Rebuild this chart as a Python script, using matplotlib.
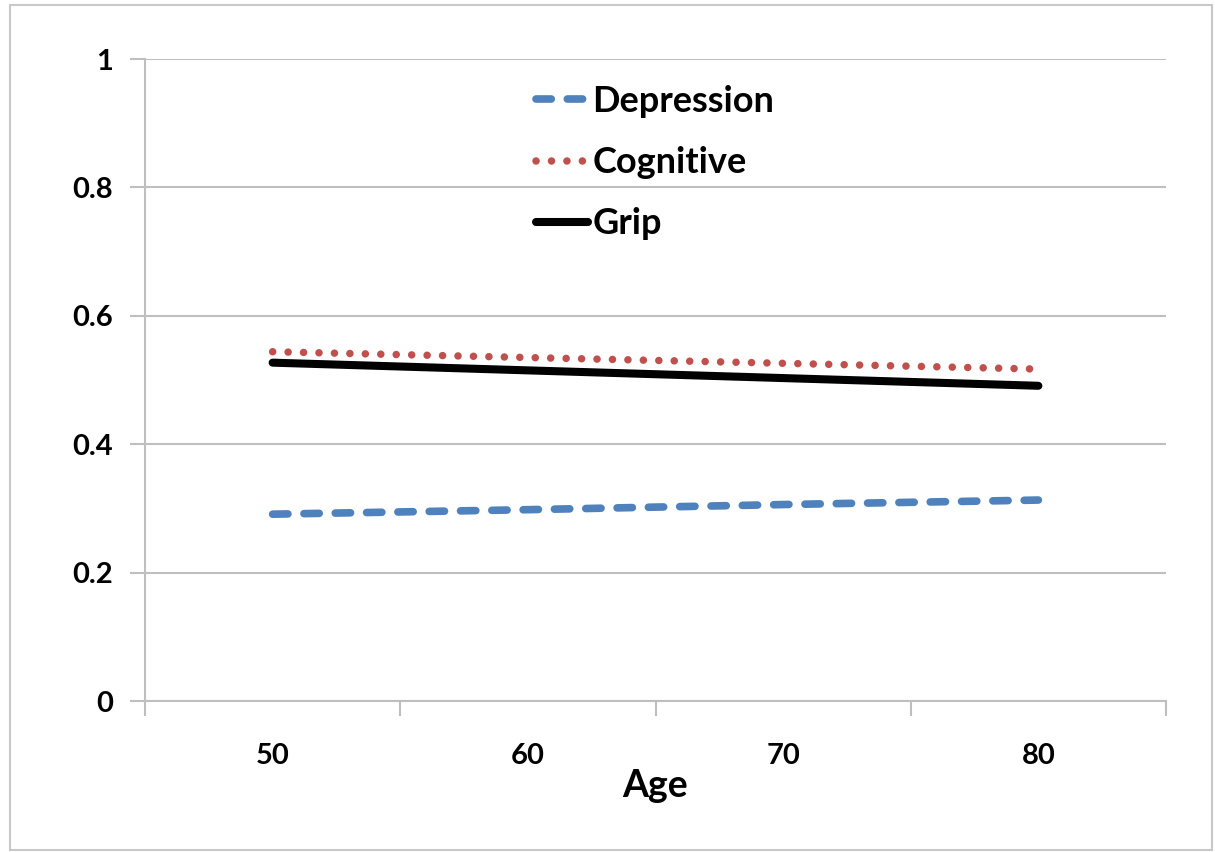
import matplotlib.pyplot as plt
from matplotlib.patches import Rectangle

plt.rcParams["font.family"] = ["Lato", "DejaVu Sans"]

ages = ["50", "60", "70", "80"]
depression = [0.291, 0.298, 0.306, 0.313]
cognitive = [0.544, 0.535, 0.526, 0.517]
grip = [0.527, 0.515, 0.503, 0.491]
y_ticks = [0, 0.2, 0.4, 0.6, 0.8, 1]
y_labels = ["0", "0.2", "0.4", "0.6", "0.8", "1"]

GRID = "#bfbfbf"

fig = plt.figure(figsize=(12.15, 8.52), dpi=100)
fig.patches.append(Rectangle((10 / 1215, 2 / 852), 1202 / 1215, 845 / 852,
                             transform=fig.transFigure, fill=False,
                             edgecolor="#c8c8c8", linewidth=1.5))
ax = fig.add_axes([145 / 1215, 151 / 852, 1021 / 1215, 642 / 852])

x = list(range(len(ages)))
ax.plot(x, depression, color="#4F81BD", linewidth=5.5, dashes=(2.0, 2.1),
        dash_capstyle="round", label="Depression")
ax.plot(x, cognitive, color="#C0504D", linewidth=5.4, dashes=(0.01, 2.05),
        dash_capstyle="round", label="Cognitive")
ax.plot(x, grip, color="black", linewidth=5.8, solid_capstyle="round",
        label="Grip")

ax.set_xlim(-0.5, len(ages) - 0.5)
ax.set_ylim(0, 1)

# category axis: ticks between categories, labels on categories
ax.set_xticks([i - 0.5 for i in range(len(ages) + 1)])
ax.set_xticklabels([])
ax.set_xticks(x, minor=True)
ax.set_xticklabels(ages, minor=True)
ax.tick_params(axis="x", which="major", length=11, width=1.5, color=GRID,
               direction="out")
ax.tick_params(axis="x", which="minor", length=0, pad=30, labelsize=21)

ax.set_yticks(y_ticks)
ax.set_yticklabels(y_labels)
ax.tick_params(axis="y", length=11, width=1.5, color=GRID, labelsize=21,
               pad=12)
for lbl in ax.get_xticklabels(minor=True) + ax.get_yticklabels():
    lbl.set_fontweight("bold")

ax.grid(axis="y", color=GRID, linewidth=1.5)
ax.set_axisbelow(True)
for side in ("top", "right"):
    ax.spines[side].set_visible(False)
for side in ("left", "bottom"):
    ax.spines[side].set_color(GRID)
    ax.spines[side].set_linewidth(1.5)

ax.set_xlabel("Age", fontsize=27, fontweight="bold", labelpad=0)

leg = ax.legend(loc="upper left", bbox_to_anchor=(358 / 1021, 1.01),
                frameon=False, handlelength=1.45,
                handletextpad=0.12, labelspacing=0.78,
                prop={"size": 26, "weight": "bold"})

fig.savefig("out.png", dpi=100)
